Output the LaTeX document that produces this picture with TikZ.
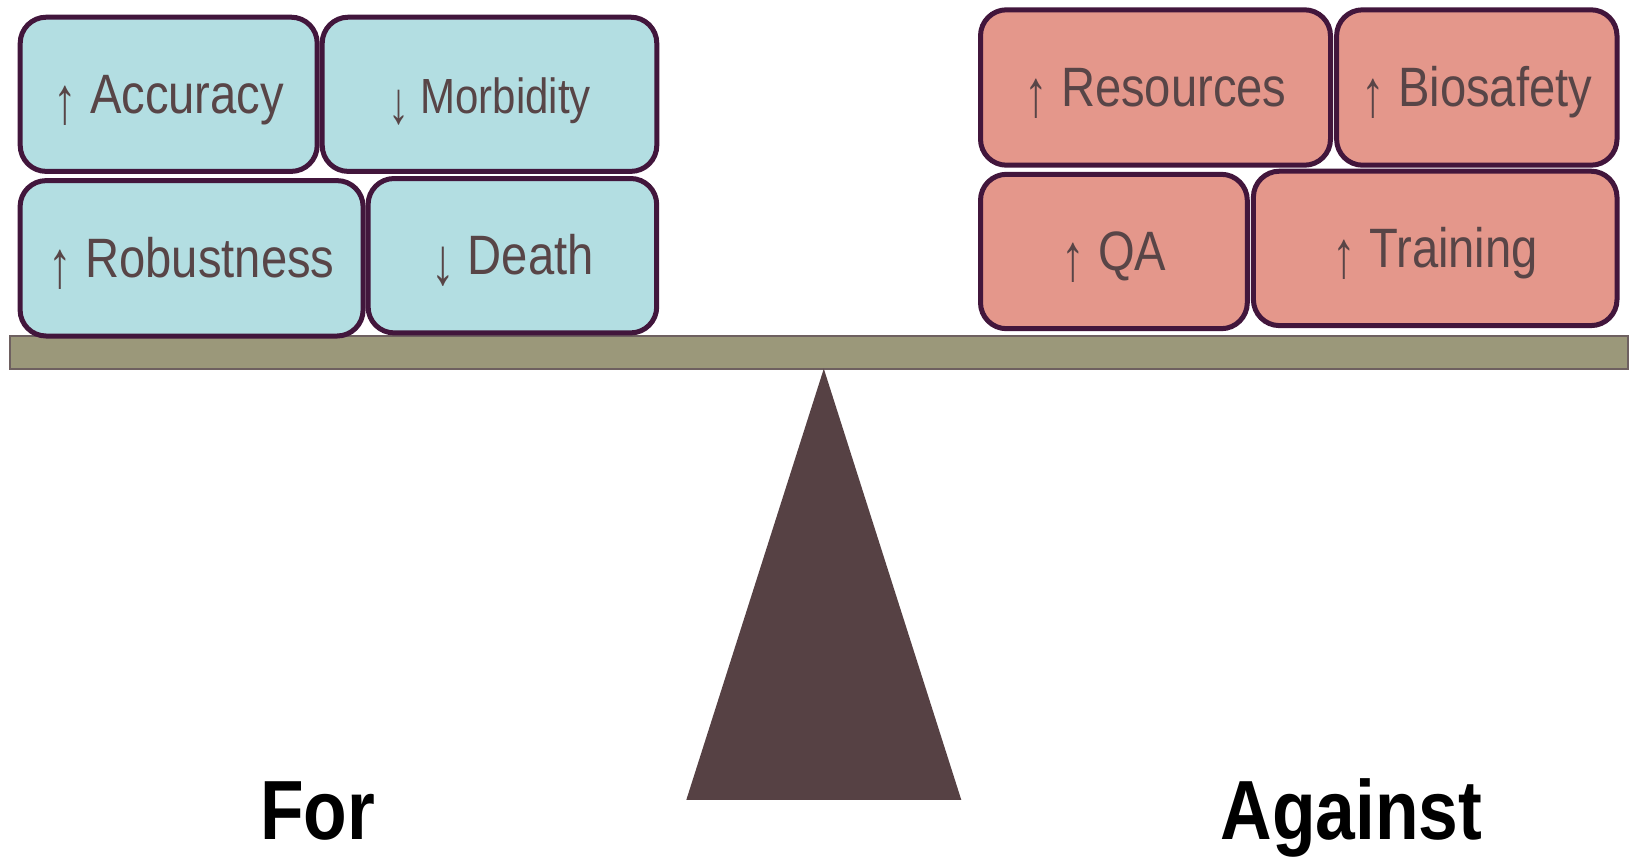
\documentclass[tikz,border=0pt]{standalone}
\usepackage{fontspec}
\newfontfamily\boxfont[FakeStretch=0.85]{Liberation Sans}
\newfontfamily\sidefont[FakeStretch=0.85]{Liberation Sans Bold}
\definecolor{forfill}{RGB}{179,222,226}
\definecolor{againstfill}{RGB}{228,151,139}
\definecolor{blockedge}{RGB}{66,22,60}
\definecolor{blocktext}{RGB}{88,69,71}
\definecolor{beamfill}{RGB}{155,152,122}
\definecolor{beamedge}{RGB}{110,96,96}
\definecolor{pivot}{RGB}{86,65,68}
% tall, thin arrows reaching below the baseline
\newcommand\upar{\raisebox{-5pt}{\scalebox{1}[1.2]{↑}}}
\newcommand\downar{\raisebox{-5pt}{\scalebox{1}[1.2]{↓}}}
\tikzset{
  block/.style={draw=blockedge, line width=2.5pt, rounded corners=13pt,
    inner sep=0pt, outer sep=0pt, text=blocktext,
    text height=18.7pt, text depth=0pt,
    font=\boxfont\fontsize{27.75pt}{30pt}\selectfont},
  forblock/.style={block, fill=forfill},
  againstblock/.style={block, fill=againstfill},
  sidelabel/.style={anchor=base, inner sep=0pt, text=black,
    font=\sidefont\fontsize{42pt}{46pt}\selectfont}
}
\begin{document}
\begin{tikzpicture}[x=0.5pt, y=-0.5pt]
  \useasboundingbox (0,0) rectangle (1633,857);

  % beam and pivot
  \draw[fill=beamfill, draw=beamedge, line width=1pt] (10.4,336.4) rectangle (1627.9,368.7);
  \fill[pivot] (823.8,368.7) -- (961.3,799.9) -- (686.3,799.9) -- cycle;

  % blocks on the "for" side
  \node[forblock, minimum width=148.5pt, minimum height=77.1pt] (acc) at (168.7,94.3) {\upar\ Accuracy};
  \node[forblock, minimum width=167.3pt, minimum height=77.1pt,
        font=\boxfont\fontsize{24.7pt}{27pt}\selectfont] (mor) at (489.5,94.3) {\downar\ Morbidity};
  \node[forblock, minimum width=171.5pt, minimum height=77.7pt] (rob) at (191.6,258.3) {\upar\ Robustness};
  \node[forblock, minimum width=144.3pt, minimum height=77.2pt] (dea) at (512.4,255.7) {\downar\ Death};

  % blocks on the "against" side
  \node[againstblock, minimum width=175pt, minimum height=77.7pt] (res) at (1155.5,87.5) {\upar\ Resources};
  \node[againstblock, minimum width=140.2pt, minimum height=77.7pt] (bio) at (1476.8,87.5) {\upar\ Biosafety};
  \node[againstblock, minimum width=133.4pt, minimum height=77.2pt] (qa) at (1113.9,251.5) {\upar\ QA};
  \node[againstblock, minimum width=181.8pt, minimum height=77.2pt] (tra) at (1435.2,248.4) {\upar\ Training};

  % side captions
  \node[sidelabel] (for) at (317.7,839.5) {For};
  \node[sidelabel] (against) at (1351.4,839.5) {Against};
\end{tikzpicture}
\end{document}
